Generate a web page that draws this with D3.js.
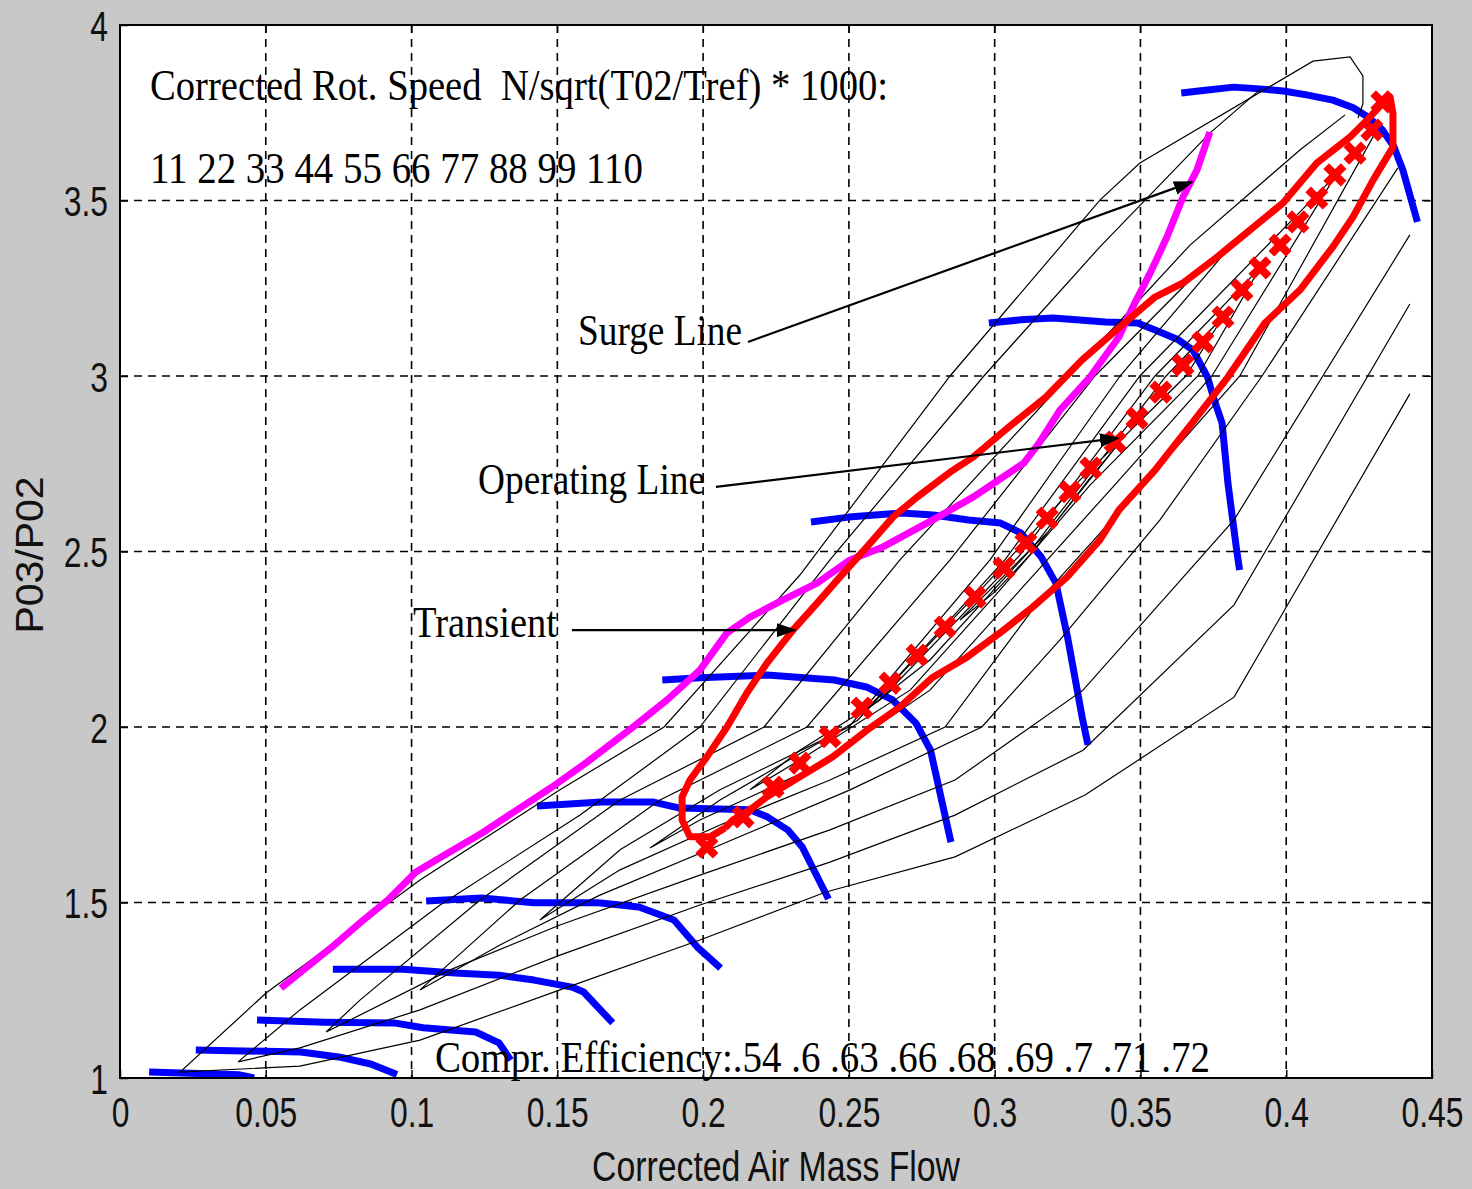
<!DOCTYPE html>
<html>
<head>
<meta charset="utf-8">
<script src="https://cdn.jsdelivr.net/npm/d3@7"></script>
<style>
body { margin: 0; background: #c8c8c8; }
svg { display: block; }
</style>
</head>
<body>
<div id="chart"></div>
<script>
const width = 1472;
const height = 1189;

const margin = { top: 25, left: 120, right: 40, bottom: 111 };
const innerW = width - margin.left - margin.right;
const innerH = height - margin.top - margin.bottom;

// axis ticks
const xTicks = [0, 0.05, 0.1, 0.15, 0.2, 0.25, 0.3, 0.35, 0.4, 0.45];
const xTickLabels = ["0", "0.05", "0.1", "0.15", "0.2", "0.25", "0.3", "0.35", "0.4", "0.45"];
const yTicks = [1, 1.5, 2, 2.5, 3, 3.5, 4];
const yTickLabels = ["1", "1.5", "2", "2.5", "3", "3.5", "4"];

// speed lines (corrected rot. speed 11 ... 110)
const spd11 = [[0.010,1.017],[0.041,1.009],[0.046,1.0]];
const spd22 = [[0.026,1.08],[0.062,1.074],[0.075,1.06],[0.086,1.04],[0.095,1.01]];
const spd33 = [[0.047,1.165],[0.070,1.159],[0.094,1.157],[0.104,1.143],[0.122,1.131],[0.130,1.100],[0.134,1.051]];
const spd44 = [[0.073,1.31],[0.097,1.31],[0.115,1.299],[0.130,1.293],[0.142,1.279],[0.155,1.259],[0.159,1.245],[0.169,1.157]];
const spd55 = [[0.105,1.504],[0.124,1.513],[0.142,1.499],[0.164,1.499],[0.178,1.487],[0.190,1.45],[0.198,1.373],[0.206,1.313]];
const spd66 = [[0.143,1.775],[0.165,1.786],[0.183,1.786],[0.192,1.769],[0.216,1.764],[0.222,1.744],[0.229,1.707],[0.234,1.658],[0.243,1.51]];
const spd77 = [[0.186,2.134],[0.199,2.14],[0.222,2.148],[0.245,2.134],[0.256,2.114],[0.265,2.077],[0.273,2.011],[0.278,1.934],[0.285,1.672]];
const spd88 = [[0.237,2.584],[0.250,2.598],[0.268,2.61],[0.279,2.604],[0.291,2.59],[0.302,2.581],[0.309,2.553],[0.316,2.484],[0.321,2.41],[0.325,2.256],[0.330,2.028],[0.332,1.949]];
const spd99 = [[0.298,3.151],[0.309,3.16],[0.320,3.165],[0.328,3.16],[0.338,3.154],[0.349,3.151],[0.355,3.131],[0.363,3.103],[0.368,3.074],[0.373,2.997],[0.375,2.94],[0.378,2.866],[0.380,2.695],[0.383,2.504],[0.384,2.447]];
const spd110 = [[0.364,3.806],[0.373,3.815],[0.382,3.823],[0.391,3.818],[0.399,3.812],[0.407,3.801],[0.416,3.786],[0.423,3.764],[0.428,3.738],[0.433,3.701],[0.437,3.652],[0.440,3.587],[0.445,3.439]];

// efficiency contours .54 ... .72
const eff54 = [[0.4424,2.949],[0.3821,2.085],[0.331,1.806],[0.2864,1.630],[0.2421,1.530],[0.1989,1.393],[0.1509,1.251],[0.1029,1.108],[0.0617,1.034],[0.0206,1.017],[0.0501,1.242],[0.1029,1.564],[0.1509,1.821],[0.1866,2.0],[0.2332,2.433],[0.2847,3.0],[0.3361,3.501],[0.3498,3.607],[0.4092,3.897],[0.4219,3.909],[0.4263,3.855],[0.4263,3.775],[0.4246,3.735]];
const eff60 = [[0.4424,3.205],[0.3821,2.348],[0.3303,1.934],[0.2864,1.749],[0.2435,1.615],[0.1989,1.493],[0.1509,1.350],[0.1029,1.194],[0.0617,1.086],[0.0405,1.046],[0.0617,1.194],[0.1098,1.493],[0.1578,1.749],[0.1989,2.0],[0.2435,2.476],[0.2963,3.0],[0.3361,3.368],[0.3738,3.692],[0.3917,3.821]];
const eff63 = [[0.4424,3.402],[0.3821,2.590],[0.3303,2.105],[0.2864,1.849],[0.2435,1.707],[0.1989,1.578],[0.1509,1.436],[0.1132,1.308],[0.0707,1.131],[0.0823,1.222],[0.1235,1.507],[0.1715,1.792],[0.2209,2.0],[0.2675,2.476],[0.3255,3.0],[0.367,3.373],[0.4047,3.644],[0.4202,3.744]];
const eff66 = [[0.4383,3.593],[0.3917,3.0],[0.3567,2.590],[0.3224,2.248],[0.2956,2.0],[0.2504,1.821],[0.2058,1.664],[0.1646,1.521],[0.1303,1.379],[0.1029,1.251],[0.1372,1.507],[0.1852,1.792],[0.2356,2.0],[0.2847,2.476],[0.3344,3.0],[0.3704,3.302]];
const eff68 = [[0.4315,3.707],[0.3841,3.0],[0.3464,2.647],[0.3155,2.362],[0.283,2.0],[0.2435,1.849],[0.2058,1.721],[0.1715,1.593],[0.144,1.450],[0.1715,1.650],[0.2058,1.821],[0.25,2.0],[0.2984,2.476],[0.343,3.0],[0.3807,3.368]];
const eff69 = [[0.4171,3.573],[0.3745,3.0],[0.3396,2.675],[0.3087,2.390],[0.2778,2.105],[0.2401,1.892],[0.1989,1.735],[0.1818,1.655],[0.2058,1.792],[0.2531,2.020],[0.3035,2.476],[0.3498,3.0],[0.4171,3.573]];
const eff70 = [[0.391,3.308],[0.3697,3.0],[0.3327,2.689],[0.3018,2.390],[0.271,2.105],[0.2332,1.906],[0.2161,1.821],[0.2332,1.934],[0.2607,2.077],[0.3087,2.49],[0.355,3.0],[0.391,3.308]];
const eff71 = [[0.3783,3.168],[0.3656,3.0],[0.3293,2.704],[0.2984,2.419],[0.2675,2.148],[0.2538,2.034],[0.2778,2.191],[0.3138,2.519],[0.3588,3.0],[0.3783,3.168]];
const eff72 = [[0.343,2.812],[0.3327,2.709],[0.3121,2.49],[0.3001,2.385],[0.2881,2.305],[0.3183,2.556],[0.343,2.812]];

// surge line
const surgeLine = [[0.0552,1.256],[0.0641,1.316],[0.0727,1.373],[0.0823,1.442],[0.0919,1.507],[0.1015,1.587],[0.1125,1.641],[0.1242,1.698],[0.1362,1.764],[0.1482,1.829],[0.1602,1.90],[0.176,2.0],[0.1876,2.077],[0.1989,2.162],[0.2082,2.268],[0.2161,2.313],[0.2274,2.362],[0.2391,2.41],[0.2504,2.476],[0.2617,2.513],[0.2788,2.59],[0.2926,2.655],[0.31,2.752],[0.3152,2.809],[0.3224,2.903],[0.3327,2.997],[0.3426,3.111],[0.3474,3.197],[0.3533,3.293],[0.3591,3.396],[0.3646,3.51],[0.3694,3.587],[0.3738,3.695]];

// transient loop
const transient = [[0.2075,1.712],[0.2024,1.687],[0.1955,1.687],[0.1928,1.735],[0.1928,1.801],[0.1955,1.849],[0.2013,1.915],[0.2082,2.0],[0.215,2.097],[0.2219,2.182],[0.2308,2.276],[0.2391,2.353],[0.2469,2.427],[0.2562,2.513],[0.2651,2.598],[0.2734,2.655],[0.2847,2.726],[0.2926,2.769],[0.3049,2.855],[0.3176,2.94],[0.33,3.046],[0.3426,3.137],[0.355,3.225],[0.3646,3.265],[0.3763,3.339],[0.3876,3.416],[0.3989,3.493],[0.4105,3.607],[0.4219,3.681],[0.4277,3.729],[0.4332,3.778],[0.4356,3.795],[0.4366,3.749],[0.4366,3.652],[0.4298,3.558],[0.4229,3.453],[0.416,3.368],[0.4047,3.245],[0.3927,3.151],[0.38,2.997],[0.3677,2.866],[0.355,2.732],[0.3426,2.618],[0.3361,2.533],[0.3248,2.427],[0.3131,2.342],[0.3018,2.268],[0.2905,2.199],[0.2788,2.142],[0.2675,2.057],[0.2562,1.991],[0.2445,1.915],[0.2332,1.858],[0.2219,1.801],[0.2161,1.764],[0.2102,1.735],[0.2075,1.712]];

// operating line points
const operating = [[0.2013,1.658],[0.2137,1.744],[0.224,1.829],[0.2332,1.897],[0.2435,1.972],[0.2545,2.054],[0.2641,2.125],[0.2734,2.205],[0.283,2.285],[0.2933,2.37],[0.3032,2.453],[0.3107,2.524],[0.318,2.595],[0.3258,2.67],[0.333,2.738],[0.3413,2.812],[0.3488,2.88],[0.357,2.954],[0.3646,3.031],[0.3714,3.097],[0.3783,3.168],[0.3848,3.245],[0.391,3.308],[0.3979,3.373],[0.404,3.439],[0.4105,3.507],[0.4167,3.573],[0.4236,3.635],[0.4294,3.701],[0.4328,3.781]];

// annotations: text, position (data), width in px
const notes = [
  { text: "Corrected Rot. Speed  N/sqrt(T02/Tref) * 1000:", x: 0.0103, y: 3.786, w: 738 },
  { text: "11 22 33 44 55 66 77 88 99 110", x: 0.0103, y: 3.55, w: 493 },
  { text: "Surge Line", x: 0.1571, y: 3.088, w: 164 },
  { text: "Operating Line", x: 0.1228, y: 2.664, w: 227 },
  { text: "Transient", x: 0.1005, y: 2.256, w: 144 },
  { text: "Compr. Efficiency:.54 .6 .63 .66 .68 .69 .7 .71 .72", x: 0.108, y: 1.017, w: 775 }
];
const arrows = [
  { from: [0.2154, 3.097], to: [0.3677, 3.553] },
  { from: [0.2044, 2.684], to: [0.3423, 2.823] },
  { from: [0.155, 2.276], to: [0.2315, 2.276] }
];

const speedLines = [spd11, spd22, spd33, spd44, spd55, spd66, spd77, spd88, spd99, spd110];
const effLines = [eff54, eff60, eff63, eff66, eff68, eff69, eff70, eff71, eff72];

const xScale = d3.scaleLinear().domain([0, 0.45]).range([0, innerW]);
const yScale = d3.scaleLinear().domain([1, 4]).range([innerH, 0]);

const line = d3.line()
  .x(d => xScale(d[0]))
  .y(d => yScale(d[1]));

const svg = d3.select("#chart").append("svg")
  .attr("width", width)
  .attr("height", height);

svg.append("rect").attr("width", width).attr("height", height).attr("fill", "#c8c8c8");

const defs = svg.append("defs");
defs.append("clipPath").attr("id", "plotClip")
  .append("rect").attr("width", innerW).attr("height", innerH);
defs.append("marker")
  .attr("id", "head")
  .attr("markerUnits", "userSpaceOnUse")
  .attr("markerWidth", 20).attr("markerHeight", 14)
  .attr("refX", 18).attr("refY", 7)
  .attr("orient", "auto")
  .append("path").attr("d", "M0,0 L20,7 L0,14 Z").attr("fill", "#000");

const g = svg.append("g").attr("transform", `translate(${margin.left},${margin.top})`);

g.append("rect").attr("width", innerW).attr("height", innerH).attr("fill", "#fff");

// squeeze text horizontally like the original
function squeeze(sel, k) {
  sel.each(function () {
    const len = this.getComputedTextLength();
    d3.select(this).attr("textLength", len * k).attr("lengthAdjust", "spacingAndGlyphs");
  });
}

// grid
g.append("g").selectAll("line").data(xTicks.slice(1, -1)).join("line")
  .attr("x1", d => xScale(d)).attr("x2", d => xScale(d))
  .attr("y1", 0).attr("y2", innerH)
  .attr("stroke", "#000").attr("stroke-width", 1.6).attr("stroke-dasharray", "8,6");
g.append("g").selectAll("line").data(yTicks.slice(1, -1)).join("line")
  .attr("y1", d => yScale(d)).attr("y2", d => yScale(d))
  .attr("x1", 0).attr("x2", innerW)
  .attr("stroke", "#000").attr("stroke-width", 1.6).attr("stroke-dasharray", "8,6");

// axes
const xAxis = d3.axisBottom(xScale).tickValues(xTicks)
  .tickFormat((d, i) => xTickLabels[i]).tickSizeInner(-8).tickSizeOuter(0).tickPadding(18);
const yAxis = d3.axisLeft(yScale).tickValues(yTicks)
  .tickFormat((d, i) => yTickLabels[i]).tickSizeInner(-8).tickSizeOuter(0).tickPadding(12);

const gx = g.append("g").attr("transform", `translate(0,${innerH})`).call(xAxis);
const gy = g.append("g").call(yAxis);
[gx, gy].forEach(a => {
  a.select(".domain").remove();
  a.selectAll("line").attr("stroke", "#000").attr("stroke-width", 1.5);
  a.selectAll("text")
    .attr("fill", "#111")
    .style("font-family", "'Liberation Sans', Arial, sans-serif")
    .style("font-size", "43px");
});
gy.selectAll("text").attr("dy", "0.36em");
squeeze(gx.selectAll("text"), 0.74);
squeeze(gy.selectAll("text"), 0.74);

g.append("g").attr("transform", `translate(${innerW},0)`)
  .call(d3.axisRight(yScale).tickValues(yTicks).tickFormat("").tickSizeInner(-8).tickSizeOuter(0))
  .call(a => a.select(".domain").remove());
g.append("g")
  .call(d3.axisTop(xScale).tickValues(xTicks).tickFormat("").tickSizeInner(-8).tickSizeOuter(0))
  .call(a => a.select(".domain").remove());

// data layers
const plot = g.append("g").attr("clip-path", "url(#plotClip)");

plot.append("g").selectAll("path").data(speedLines).join("path")
  .attr("d", line)
  .attr("fill", "none").attr("stroke", "#0000ff").attr("stroke-width", 7)
  .attr("stroke-linejoin", "round");

plot.append("g").selectAll("path").data(effLines).join("path")
  .attr("d", line)
  .attr("fill", "none").attr("stroke", "#000").attr("stroke-width", 1.2);

plot.append("path").datum(surgeLine)
  .attr("d", line)
  .attr("fill", "none").attr("stroke", "#ff00ff").attr("stroke-width", 7)
  .attr("stroke-linejoin", "round");

plot.append("path").datum(transient)
  .attr("d", line)
  .attr("fill", "none").attr("stroke", "#ff0000").attr("stroke-width", 7)
  .attr("stroke-linejoin", "round");

plot.append("g").selectAll("path").data(operating).join("path")
  .attr("transform", d => `translate(${xScale(d[0])},${yScale(d[1])})`)
  .attr("d", d3.symbol(d3.symbolX, 200))
  .attr("fill", "none").attr("stroke", "#ff0000").attr("stroke-width", 8);

// arrows
g.append("g").selectAll("line").data(arrows).join("line")
  .attr("x1", d => xScale(d.from[0])).attr("y1", d => yScale(d.from[1]))
  .attr("x2", d => xScale(d.to[0])).attr("y2", d => yScale(d.to[1]))
  .attr("stroke", "#000").attr("stroke-width", 2.2)
  .attr("marker-end", "url(#head)");

// annotation text
g.append("g").selectAll("text").data(notes).join("text")
  .attr("x", d => xScale(d.x)).attr("y", d => yScale(d.y))
  .attr("textLength", d => d.w).attr("lengthAdjust", "spacingAndGlyphs")
  .style("font-family", "'Liberation Serif', 'Times New Roman', serif")
  .style("font-size", "45px")
  .style("white-space", "pre")
  .attr("fill", "#000")
  .text(d => d.text);

// frame
g.append("rect").attr("width", innerW).attr("height", innerH)
  .attr("fill", "none").attr("stroke", "#000").attr("stroke-width", 2);

// axis titles
svg.append("text")
  .attr("x", margin.left + innerW / 2).attr("y", 1181)
  .attr("text-anchor", "middle")
  .attr("textLength", 368).attr("lengthAdjust", "spacingAndGlyphs")
  .style("font-family", "'Liberation Sans', Arial, sans-serif")
  .style("font-size", "42px")
  .attr("fill", "#111")
  .text("Corrected Air Mass Flow");

svg.append("text")
  .attr("transform", "translate(43,555) rotate(-90)")
  .attr("text-anchor", "middle")
  .attr("textLength", 157).attr("lengthAdjust", "spacingAndGlyphs")
  .style("font-family", "'Liberation Sans', Arial, sans-serif")
  .style("font-size", "38px")
  .attr("fill", "#111")
  .text("P03/P02");
</script>
</body>
</html>
